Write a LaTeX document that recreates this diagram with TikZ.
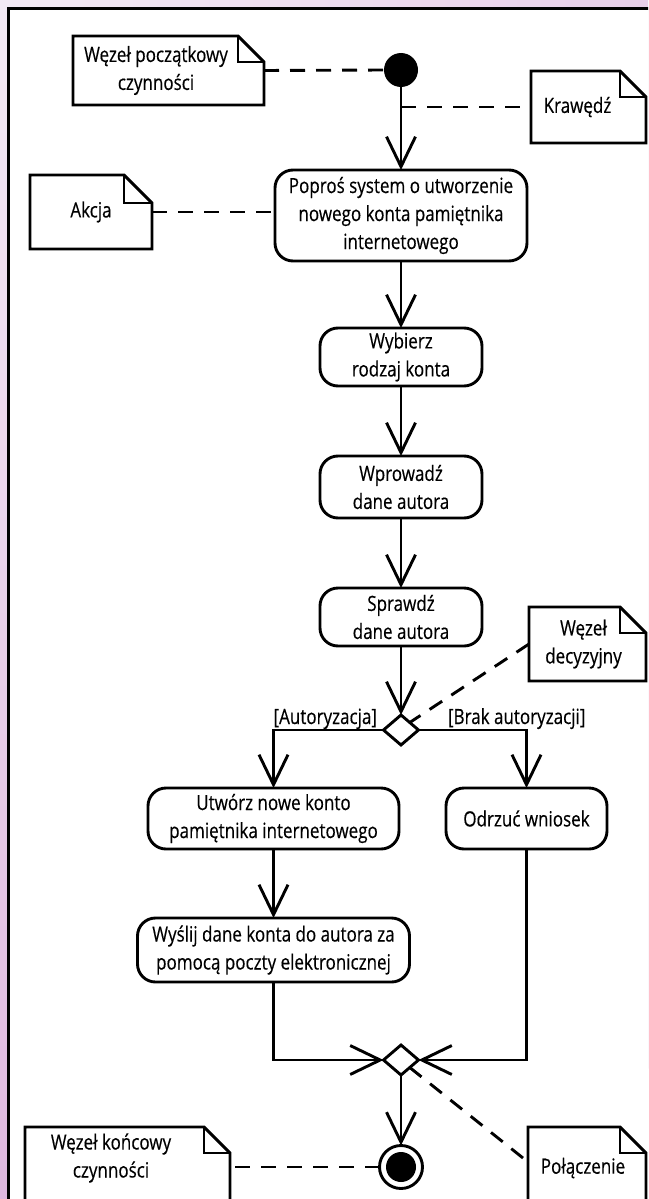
\documentclass[tikz,border=0pt]{standalone}
\usepackage{fontspec}
\setmainfont{Open Sans}[FakeStretch=0.81,FakeBold=0.35]
\usetikzlibrary{arrows.meta,shapes.geometric,calc}

\definecolor{bgA}{RGB}{243,234,245}
\definecolor{bgB}{RGB}{222,182,222}
\definecolor{bgC}{RGB}{196,138,198}
\pgfdeclareradialshading{bgglow}{\pgfpoint{0bp}{0bp}}{color(0bp)=(bgA); color(25bp)=(bgB); color(50bp)=(bgC)}

% outline of a UML note with a folded top-right corner;
% #1 node name, #2 fold size, #3 extra length of the sides below the node
\newcommand{\notefold}[3]{%
  \draw[noteline] (#1.north west) -- ([xshift=-#2pt]#1.north east) -- ([yshift=-#2pt]#1.north east)
     -- ([yshift=-#3pt]#1.south east) -- ([yshift=-#3pt]#1.south west) -- cycle;
  \draw[noteline] ([xshift=-#2pt]#1.north east) -- ([xshift=-#2pt,yshift=-#2pt]#1.north east)
     -- ([yshift=-#2pt]#1.north east);}
% pull a centred line of text to the left
\newcommand{\lsh}[1]{\hspace*{-#1pt}}

\begin{document}
\begin{tikzpicture}[x=1pt,y=-1pt,
  every node/.style={font=\fontsize{21}{28}\selectfont, inner sep=0pt, outer sep=0pt},
  action/.style={draw, line width=2.9pt, rounded corners=18pt, fill=white, align=center},
  notebox/.style={align=center},
  noteline/.style={line width=2.9pt, line join=miter},
  flow/.style={line width=2.9pt, -{Straight Barb[length=30pt,width=29pt]}},
  dashline/.style={line width=2.9pt, dash pattern=on 15pt off 11pt},
  decision/.style={diamond, draw, line width=2.9pt, fill=white, minimum width=35pt, minimum height=30pt},
  startnode/.style={circle, fill=black, minimum size=34pt},
  endnode/.style={circle, draw, line width=2.9pt, fill=white, minimum size=43pt},
  guard/.style={font=\fontsize{21}{28}\selectfont}
]
\useasboundingbox (0,0) rectangle (648,1199);
\begin{scope}
\clip (0,0) rectangle (648,1199);
% background and white sheet
\shade[shading=bgglow] (0,0) circle[radius=1250pt];
\draw[line width=3pt, fill=white] (8.5,8.5) rectangle (700,1260);

% main column of actions
\node[startnode] (start) at (401,70) {};
\node[action, minimum width=252pt, minimum height=91pt] (b1) at (401,215.5)
  {Poproś system o utworzenie\\nowego konta pamiętnika\\internetowego};
\node[action, minimum width=162pt, minimum height=58pt] (b2) at (401,357) {Wybierz\\rodzaj konta};
\node[action, minimum width=162pt, minimum height=62pt] (b3) at (401,487) {Wprowadź\\dane autora};
\node[action, minimum width=162pt, minimum height=58pt] (b4) at (401,617) {Sprawdź\\dane autora};
\node[decision] (dec) at (401,730) {};
\node[action, minimum width=251pt, minimum height=61pt] (b5) at (273.5,818.5)
  {Utwórz nowe konto\\pamiętnika internetowego};
\node[action, minimum width=161pt, minimum height=61pt] (b6) at (526.5,818.5) {Odrzuć wniosek};
\node[action, minimum width=272pt, minimum height=64pt] (b7) at (273.5,950)
  {Wyślij dane konta do autora za\\pomocą poczty elektronicznej};
\node[decision] (join) at (401,1060) {};
\node[endnode] (final) at (401,1167) {};
\fill (final.center) circle[radius=15pt];

% guards
\node[guard, anchor=base east] (lyes) at (377,724) {[Autoryzacja]};
\node[guard, anchor=base west] (lno) at (448,724) {[Brak autoryzacji]};

% notes
\node[notebox, minimum width=191pt, minimum height=69pt] (ninit) at (168.5,70.5)
  {\lsh{25}Węzeł początkowy\\\lsh{25}czynności};
\notefold{ninit}{26}{0}
\node[notebox, minimum width=115pt, minimum height=72pt] (nedge) at (588.5,107) {\lsh{22}Krawędź};
\notefold{nedge}{26}{0}
\node[notebox, minimum width=122pt, minimum height=74pt] (nact) at (91,212) {Akcja};
\notefold{nact}{28}{0}
\node[notebox, minimum width=117pt, minimum height=74pt] (ndec) at (587.5,644)
  {\lsh{8}Węzeł\\\lsh{8}decyzyjny};
\notefold{ndec}{26}{0}
\node[notebox, minimum width=205pt, minimum height=62pt] (nfin) at (127.5,1158)
  {\lsh{33}Węzeł końcowy\\\lsh{33}czynności};
\notefold{nfin}{26}{40}
\node[notebox, minimum width=118pt, minimum height=82pt] (nconn) at (587,1168) {\lsh{8}Połączenie};
\notefold{nconn}{26}{20}

% control flow
\draw[flow] (start.south) -- (start.south |- b1.north);
\draw[flow] (b1.south) -- (b2.north);
\draw[flow] (b2.south) -- (b3.north);
\draw[flow] (b3.south) -- (b4.north);
\draw[flow] (b4.south) -- (dec.north);
\draw[flow] (dec.west) -| (b5.north);
\draw[flow] (dec.east) -| (b6.north);
\draw[flow] (b5.south) -- (b7.north);
\draw[flow] (b7.south) |- (join.west);
\draw[flow] (b6.south) |- (join.east);
\draw[flow] (join.south) -- (final.north);

% note anchors
\draw[dashline] (ninit.east) -- (start.west);
\draw[dashline] (start.south |- nedge.west) -- (nedge.west);
\draw[dashline] (nact.east) -- (nact.east -| b1.west);
\draw[dashline] (ndec.west) -- (dec.north east);
\draw[dashline] (join.south east) -- ($(nconn.north west)+(0,35)$);
\draw[dashline] (final.west) -- (final.west -| nfin.east);
\end{scope}
\end{tikzpicture}
\end{document}
